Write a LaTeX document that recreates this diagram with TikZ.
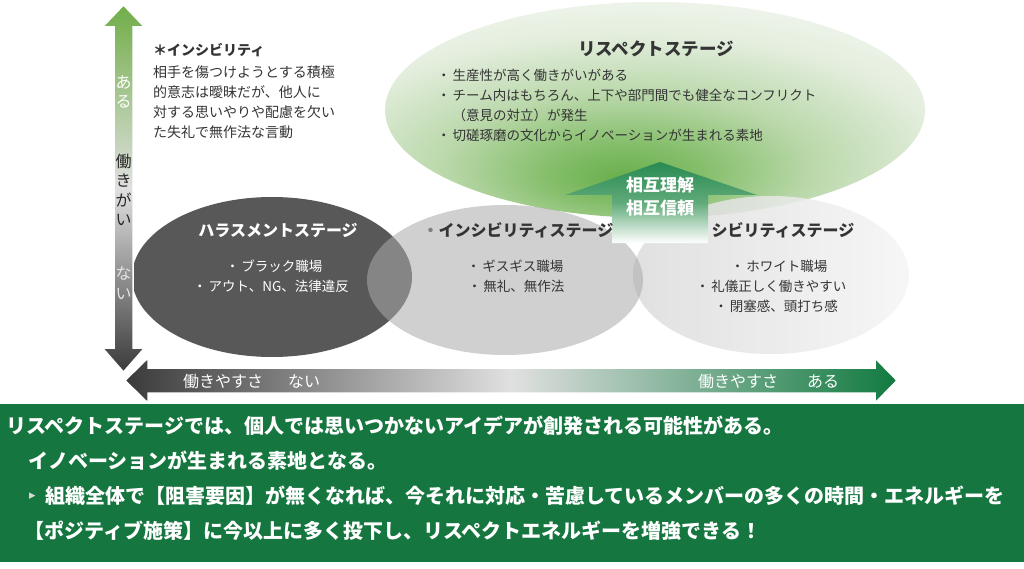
\documentclass[tikz,border=0pt]{standalone}
\usepackage{fontspec}
\setmainfont{Noto Sans CJK JP}
\newfontfamily\symfont{DejaVu Sans}
\usetikzlibrary{shapes.geometric}

\definecolor{officegreen}{RGB}{112,173,71}
\definecolor{axisdark}{RGB}{58,58,58}
\definecolor{axislight}{RGB}{224,224,224}
\definecolor{deepgreen}{RGB}{16,122,64}
\definecolor{boxgreen}{RGB}{22,118,64}
\definecolor{harassgrey}{RGB}{88,88,88}
\definecolor{incivgrey}{RGB}{170,170,170}
\definecolor{inktext}{RGB}{52,52,52}
\definecolor{glowcore}{RGB}{104,174,76}
\definecolor{glowinner}{RGB}{132,190,106}
\definecolor{glowmid}{RGB}{186,216,170}
\definecolor{glowedge}{RGB}{228,238,222}
\definecolor{glowrim}{RGB}{244,247,241}
\definecolor{mutualtop}{RGB}{40,138,82}
\definecolor{mutualmid}{RGB}{96,170,120}

\pgfdeclareradialshading{respectglow}{\pgfpoint{-3bp}{-16bp}}{%
  color(0bp)=(glowcore); color(7bp)=(glowinner); color(17bp)=(glowmid);
  color(29bp)=(glowedge); color(40bp)=(glowrim); color(100bp)=(glowrim)}

\tikzset{
  stage/.style={ellipse, inner sep=0},
  title/.style={font=\bfseries\fontsize{16}{19}\selectfont, inner sep=0},
  item/.style={font=\fontsize{13.5}{16}\selectfont, inner sep=0},
  axislabel/.style={font=\fontsize{16}{19.5}\selectfont, inner sep=0, align=center},
  note/.style={font=\fontsize{14}{17}\selectfont, text=inktext, anchor=west, inner sep=0},
  summary/.style={font=\bfseries\fontsize{20}{24}\selectfont, text=white, anchor=west, inner sep=0}
}

\begin{document}
\begin{tikzpicture}[x=1pt,y=-1pt]
\useasboundingbox (0,0) rectangle (1024,569);

% stages
\node (respect) [stage, shade, shading=respectglow, minimum width=540, minimum height=216] at (655,110) {};
\node (harass) [stage, fill=harassgrey, minimum width=280, minimum height=160] at (272,277) {};
\node (civil) [stage, left color=black!14, right color=black!4, fill opacity=0.85,
  minimum width=276, minimum height=158] at (771,275) {};
\node (incivil) [stage, fill=incivgrey, fill opacity=0.55, minimum width=276, minimum height=150] at (505,280) {};

% up arrow
\shade[top color=mutualtop, bottom color=white, middle color=mutualmid]
  (660,162) -- (757,195) -- (708,195) -- (708,243) -- (612,243) -- (612,195) -- (565,195) -- cycle;
\node (mutual) [font=\bfseries\fontsize{17}{23}\selectfont, text=white, align=center, inner sep=0]
  at (660,197) {相互理解\\相互信頼};

% axes
\shadedraw[top color=officegreen, bottom color=axisdark, middle color=axislight, draw=white, line width=1.5]
  (123.5,5) -- (144.5,27) -- (133,27) -- (133,348) -- (144.5,348) -- (123.5,372)
  -- (102.5,348) -- (114,348) -- (114,27) -- (102.5,27) -- cycle;
\shadedraw[left color=axisdark, right color=deepgreen, middle color=axislight, draw=white, line width=1.5]
  (125,380.5) -- (148,358) -- (148,368) -- (875,368) -- (875,358) -- (897,380.5)
  -- (875,403) -- (875,393) -- (148,393) -- (148,403) -- cycle;

\node (vhigh) [axislabel, text=white] at (123.5,92) {あ\\る};
\node (vname) [axislabel, text=black!85, font=\fontsize{16}{19.5}\selectfont] at (123.5,190) {働\\き\\が\\い};
\node (vlow) [axislabel, text=white!90!black] at (123.5,283) {な\\い};
\node (hlow) [axislabel, anchor=west, text=white] at (183,381) {働きやすさ\hspace{25pt}ない};
\node (hhigh) [axislabel, anchor=west, text=white] at (698,381) {働きやすさ\hspace{29pt}ある};

% note
\node (notehead) [note, font=\bfseries\fontsize{14}{17}\selectfont] at (153,50) {＊インシビリティ};
\foreach \txt [count=\i] in {相手を傷つけようとする積極, 的意志は曖昧だが、他人に,
    対する思いやりや配慮を欠い, た失礼で無作法な言動}
  \node (note\i) [note] at (153,52+20*\i) {\txt};

% respect stage text
\node (respecttitle) [title, font=\bfseries\fontsize{17.5}{20}\selectfont, text=inktext] at (656,49) {リスペクトステージ};
\node (respect1) [item, anchor=west, text=inktext] at (437,75) {・\hspace{2pt}生産性が高く働きがいがある};
\node (respect2) [item, anchor=west, text=inktext] at (437,95) {・\hspace{2pt}チーム内はもちろん、上下や部門間でも健全なコンフリクト};
\node (respect3) [item, anchor=west, text=inktext] at (452.5,115) {（意見の対立）が発生};
\node (respect4) [item, anchor=west, text=inktext] at (437,135) {・\hspace{2pt}切磋琢磨の文化からイノベーションが生まれる素地};

% lower stages text
\node (harasstitle) [title, text=white] at (278,230) {ハラスメントステージ};
\node (harass1) [item, text=white] at (274,266) {・\hspace{2pt}ブラック職場};
\node (harass2) [item, text=white] at (271,286) {・\hspace{2pt}アウト、NG、法律違反};

\node (incivtitle) [title, text=inktext] at (518,230) {{\color{gray}・}インシビリティステージ};
\node (incivil1) [item, text=inktext] at (515,266) {・\hspace{2pt}ギスギス職場};
\node (incivil2) [item, text=inktext] at (516,286) {・\hspace{2pt}無礼、無作法};

\node (civiltitle) [title, text=inktext] at (783,230) {シビリティステージ};
\node (civil1) [item, text=inktext] at (779,266) {・\hspace{2pt}ホワイト職場};
\node (civil2) [item, text=inktext] at (771,286) {・\hspace{2pt}礼儀正しく働きやすい};
\node (civil3) [item, text=inktext] at (776,306) {・\hspace{2pt}閉塞感、頭打ち感};

% summary box
\node (summarybox) [fill=boxgreen, minimum width=1024, minimum height=158, inner sep=0, anchor=north west] at (0,404) {};
\node (line1) [summary] at (6,426) {リスペクトステージでは、個人では思いつかないアイデアが創発される可能性がある。};
\node (line2) [summary] at (28,461) {イノベーションが生まれる素地となる。};
\node (pointer) [summary, font=\symfont\fontsize{13}{15}\selectfont, text=white!85!black] at (29,496) {▸};
\node (line3) [summary] at (45,496) {組織全体で【阻害要因】が無くなれば、今それに対応・苦慮しているメンバーの多くの時間・エネルギーを};
\node (line4) [summary] at (24,531) {【ポジティブ施策】に今以上に多く投下し、リスペクトエネルギーを増強できる！};
\end{tikzpicture}
\end{document}
